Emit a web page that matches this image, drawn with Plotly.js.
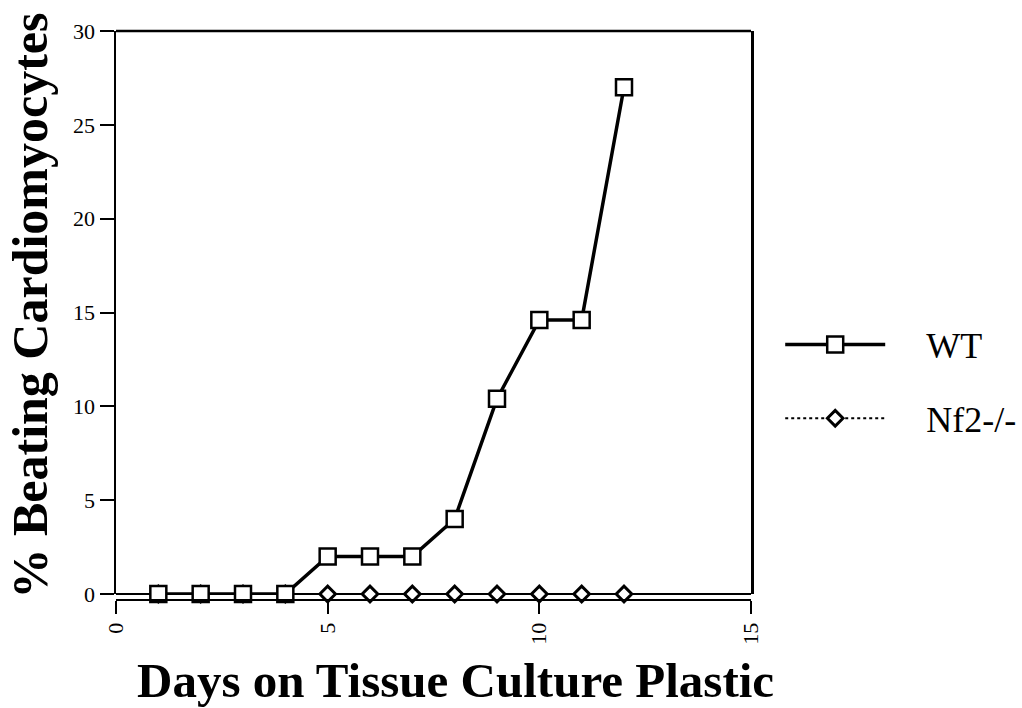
<!DOCTYPE html>
<html>
<head>
<meta charset="utf-8">
<script src="https://cdn.plot.ly/plotly-3.0.1.min.js"></script>
<style>html,body{margin:0;padding:0;background:#fff;}#chart{width:1022px;height:708px;}</style>
</head>
<body>
<div id="chart"></div>
<script>
const days = [1, 2, 3, 4, 5, 6, 7, 8, 9, 10, 11, 12];
const wtValues = [0, 0, 0, 0, 2, 2, 2, 4, 10.4, 14.6, 14.6, 27];
const nf2Values = [0, 0, 0, 0, 0, 0, 0, 0, 0, 0, 0, 0];
const seriesNames = ['WT', 'Nf2-/-'];
const xTicks = [0, 5, 10, 15];
const yTicks = [0, 5, 10, 15, 20, 25, 30];
const xTitle = 'Days on Tissue Culture Plastic';
const yTitle = '% Beating Cardiomyocytes';

const serif = 'Liberation Serif';
const gap = '&nbsp;&nbsp;&nbsp;&nbsp;';

const traces = [
  {
    x: days, y: nf2Values, name: gap + seriesNames[1], type: 'scatter', mode: 'lines+markers',
    line: {color: '#000', width: 2, dash: 'dot'},
    marker: {symbol: 'diamond', size: 12, color: '#fff', line: {color: '#000', width: 3}},
    cliponaxis: false, legendrank: 2, legendgroup: 'b'
  },
  {
    x: days, y: wtValues, name: gap + seriesNames[0], type: 'scatter', mode: 'lines+markers',
    line: {color: '#000', width: 3.5},
    marker: {symbol: 'square', size: 16, color: '#fff', line: {color: '#000', width: 2.5}},
    cliponaxis: false, legendrank: 1, legendgroup: 'a'
  }
];

const layout = {
  width: 1022, height: 708,
  paper_bgcolor: '#fff', plot_bgcolor: '#fff',
  font: {family: serif, color: '#000'},
  margin: {l: 116, r: 271, t: 31, b: 108, autoexpand: false},
  showlegend: true,
  legend: {
    x: 1.046, y: 0.384, xanchor: 'left', yanchor: 'middle',
    font: {family: serif, size: 36, color: '#000'},
    itemwidth: 100, tracegroupgap: 24, traceorder: 'grouped',
    bgcolor: 'rgba(0,0,0,0)'
  },
  xaxis: {
    range: [0, 15], anchor: 'free', position: 0,
    tickvals: xTicks, ticktext: xTicks.map(String),
    ticks: 'outside', ticklen: 13, tickwidth: 2, tickcolor: '#000',
    tickangle: -90,
    tickfont: {family: serif, size: 22, color: '#000'},
    showline: true, linecolor: '#000', linewidth: 2,
    showgrid: false, zeroline: false
  },
  yaxis: {
    range: [0, 30], domain: [0.0105, 1],
    tickvals: yTicks, ticktext: yTicks.map(String),
    ticks: 'outside', ticklen: 14, tickwidth: 2, tickcolor: '#000',
    tickfont: {family: serif, size: 22, color: '#000'},
    showline: true, linecolor: '#000', linewidth: 2.5, mirror: true,
    showgrid: false, zeroline: true, zerolinecolor: '#000', zerolinewidth: 2.5
  },
  shapes: [
    {type: 'line', xref: 'paper', yref: 'paper', x0: 0, x1: 1, y0: 1, y1: 1,
     line: {color: '#000', width: 2.5}, layer: 'above'}
  ],
  annotations: [
    {
      text: '<b>' + xTitle + '</b>', xref: 'paper', yref: 'paper',
      x: 0.535, y: -0.09, xanchor: 'center', yanchor: 'top', showarrow: false,
      font: {family: serif, size: 49, color: '#000'}
    },
    {
      text: '<b>' + yTitle + '</b>', xref: 'paper', yref: 'paper',
      x: -0.135, y: 0.518, xanchor: 'center', yanchor: 'middle', showarrow: false, textangle: -90,
      font: {family: serif, size: 50, color: '#000'}
    }
  ]
};

Plotly.newPlot('chart', traces, layout, {displayModeBar: false, staticPlot: true});
</script>
</body>
</html>
